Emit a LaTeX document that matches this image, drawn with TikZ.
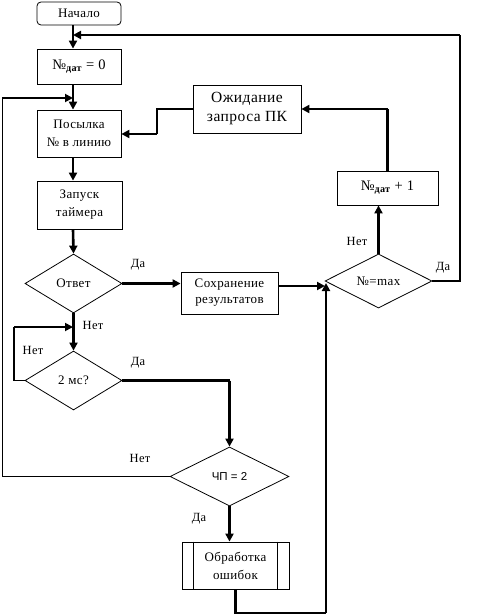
\documentclass[tikz,border=0pt]{standalone}
\usepackage{fontspec}
\setmainfont{Liberation Serif}[LetterSpace=3]
\newfontfamily\arialf{Liberation Sans}
\usetikzlibrary{shapes.geometric,arrows.meta}
\begin{document}
\begin{tikzpicture}[x=1pt,y=-1pt,
  box/.style={draw,line width=0.8pt,inner sep=0pt,align=center,font=\fontsize{13}{16}\selectfont},
  dia/.style={draw,diamond,line width=0.8pt,inner sep=0pt,font=\fontsize{13}{16}\selectfont},
  conn/.style={line width=2.6pt,-{Triangle[length=8pt,width=8pt]}},
  plain/.style={line width=2.6pt},
  mid/.style={line width=1.8pt},
  midarrow/.style={line width=1.8pt,-{Triangle[length=8pt,width=8pt]}},
  thin/.style={line width=0.8pt},
  lbl/.style={font=\fontsize{12.5}{15}\selectfont,inner sep=0pt}
]
\useasboundingbox (0,0) rectangle (478,615);
% nodes
\node[box,rounded corners=4pt,minimum width=84pt,minimum height=23pt] (start) at (79,13.5) {Начало};
\node[box,minimum width=84pt,minimum height=35pt,font=\fontsize{14.5}{17}\selectfont] (n0) at (79,66.5) {№\textsubscript{\bfseries дат} = 0};
\node[box,minimum width=84pt,minimum height=47pt,font=\fontsize{13}{18}\selectfont] (send) at (79,133.5) {Посылка\\№ в линию};
\node[box,minimum width=85pt,minimum height=48pt,font=\fontsize{13}{18}\selectfont] (timer) at (79.5,205) {Запуск\\таймера};
\node[dia,minimum width=97pt,minimum height=59pt] (ans) at (73.5,283.5) {Ответ};
\node[dia,minimum width=97pt,minimum height=59pt] (ms) at (73.5,380.5) {2 мс?};
\node[dia,minimum width=119pt,minimum height=59pt,font=\arialf\fontsize{11.5}{13}\selectfont] (chp) at (229.5,476.5) {ЧП = 2};
\node[box,minimum width=97pt,minimum height=42pt,font=\fontsize{13}{16}\selectfont] (save) at (229.5,293) {Сохранение\\результатов};
\node[box,minimum width=108pt,minimum height=48pt,font=\fontsize{15.5}{19}\selectfont] (wait) at (247,109) {Ожидание\\запроса ПК};
\node[box,minimum width=101pt,minimum height=34pt,font=\fontsize{14.5}{17}\selectfont] (inc) at (387.5,188) {№\textsubscript{\bfseries дат} + 1};
\node[dia,minimum width=107pt,minimum height=54pt] (max) at (378.5,281) {№=max};
\node[box,minimum width=107pt,minimum height=47pt,font=\fontsize{13}{18}\selectfont] (err) at (235.5,565.5) {Обработка\\ошибок};
\draw[thin] ([xshift=12pt]err.north west) -- ([xshift=12pt]err.south west);
\draw[thin] ([xshift=-12pt]err.north east) -- ([xshift=-12pt]err.south east);
% coordinates
\coordinate (sp1) at (73,35);
\coordinate (sp2) at (73,98);
\coordinate (sp3) at (73,327);
\coordinate (mxl) at (325,286);
\coordinate (mxb) at (326,283);
% connectors
\draw[conn] (start.south -| sp1) -- (n0.north -| sp1);
\draw[conn] (n0.south -| sp1) -- (send.north -| sp1);
\draw[conn] (send.south -| sp1) -- (timer.north -| sp1);
\draw[conn] (timer.south -| sp1) -- (ans.north);
\draw[conn] (ans.east) -- (save.west |- ans.east);
\draw[conn] (ans.south) -- (ms.north);
\draw[mid] (ms.west) -- (14,380.5) -- (14,327);
\draw[midarrow] (14,327) -- (sp3);
\draw[plain] (ms.east) -- (229.5,380.5);
\draw[conn] (229.5,380.5) -- (chp.north);
\draw[thin] (chp.west) -- (2,476.5) -- (2,98);
\draw[midarrow] (2,98) -- (sp2);
\draw[conn] (chp.south) -- (err.north -| chp.south);
\draw[plain] (err.south) -- (235.5,613) -- (326,613);
\draw[conn] (326,613) -- (mxb);
\draw[conn] (save.east |- mxl) -- (mxl);
\draw[conn] (max.north) -- (inc.south -| max.north);
\draw[plain] (inc.north) -- (387.5,109);
\draw[conn] (387.5,109) -- (wait.east);
\draw[plain] (wait.west) -- (157,109) -- (157,134);
\draw[conn] (157,134) -- (send.east |- 0,134);
\draw[plain] (max.east) -- (460,281) -- (460,35);
\draw[conn] (460,35) -- (sp1);
% labels
\node[lbl] (l1) at (138,265) {Да};
\node[lbl] (l2) at (93,325) {Нет};
\node[lbl] (l3) at (33,350) {Нет};
\node[lbl] (l4) at (138,363) {Да};
\node[lbl] (l5) at (140,458) {Нет};
\node[lbl] (l6) at (199,519) {Да};
\node[lbl] (l7) at (357,241) {Нет};
\node[lbl] (l8) at (443,268) {Да};
\end{tikzpicture}
\end{document}
